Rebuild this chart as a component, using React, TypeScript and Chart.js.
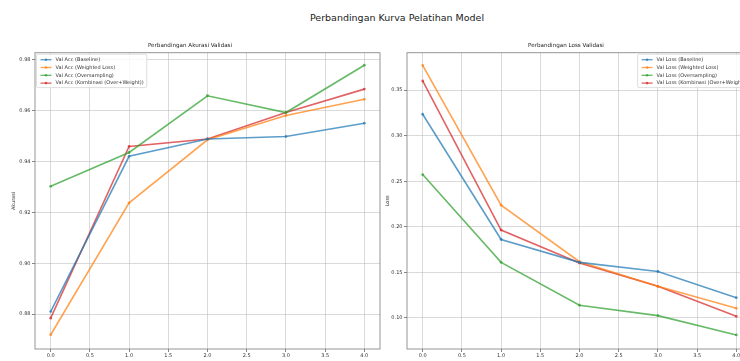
import React, { useEffect, useRef } from "react";
import { Chart, registerables } from "chart.js";

Chart.register(...registerables);

// ---- data ----
const epochs = [0, 1, 2, 3, 4];
const xTicks = [0, 0.5, 1, 1.5, 2, 2.5, 3, 3.5, 4];

const accLabels = [
  "Val Acc (Baseline)",
  "Val Acc (Weighted Loss)",
  "Val Acc (Oversampling)",
  "Val Acc (Kombinasi (Over+Weight))",
];
const accBaseline = [0.881, 0.942, 0.9488, 0.9498, 0.955];
const accWeighted = [0.8719, 0.9237, 0.9485, 0.958, 0.9644];
const accOversampling = [0.9302, 0.9435, 0.9658, 0.9592, 0.9778];
const accKombinasi = [0.8784, 0.9459, 0.9488, 0.9592, 0.9684];
const accTicks = [0.88, 0.9, 0.92, 0.94, 0.96, 0.98];

const lossLabels = [
  "Val Loss (Baseline)",
  "Val Loss (Weighted Loss)",
  "Val Loss (Oversampling)",
  "Val Loss (Kombinasi (Over+Weight))",
];
const lossBaseline = [0.3234, 0.1861, 0.161, 0.151, 0.1223];
const lossWeighted = [0.377, 0.2237, 0.1617, 0.1347, 0.1106];
const lossOversampling = [0.2573, 0.161, 0.114, 0.1026, 0.0814];
const lossKombinasi = [0.3599, 0.1964, 0.1602, 0.1347, 0.1018];
const lossTicks = [0.1, 0.15, 0.2, 0.25, 0.3, 0.35];

const colors = [
  "rgba(31,119,180,0.72)",
  "rgba(255,127,14,0.72)",
  "rgba(44,160,44,0.72)",
  "rgba(214,39,40,0.72)",
];

const FONT = '"DejaVu Sans", sans-serif';

const framePlugin = {
  id: "frame",
  afterDatasetsDraw(chart: any) {
    const { ctx, chartArea: ca } = chart;
    ctx.save();
    ctx.strokeStyle = "#8a8a8a";
    ctx.lineWidth = 0.9;
    ctx.strokeRect(ca.left, ca.top, ca.right - ca.left, ca.bottom - ca.top);
    ctx.restore();
  },
};

const boxLegendPlugin = {
  id: "boxLegend",
  afterDraw(chart: any, _args: any, opts: any) {
    const { ctx, chartArea: ca } = chart;
    const ds = chart.data.datasets;
    ctx.save();
    ctx.font = `5px ${FONT}`;
    const tw = Math.max(...ds.map((d: any) => ctx.measureText(d.label).width));
    const rowH = 7.8;
    const w = 4 + 11 + 4 + tw + 3;
    const h = 5.5 + rowH * (ds.length - 1) + 4.5;
    const x0 = opts.side === "left" ? ca.left + 1.5 : ca.right - 2 - w;
    const y0 = ca.top + 1.5;
    ctx.fillStyle = "rgba(255,255,255,0.85)";
    ctx.strokeStyle = "#d6d6d6";
    ctx.lineWidth = 0.8;
    ctx.beginPath();
    ctx.roundRect(x0, y0, w, h, 1.5);
    ctx.fill();
    ctx.stroke();
    ds.forEach((d: any, i: number) => {
      const y = y0 + 5.5 + i * rowH;
      ctx.strokeStyle = d.borderColor;
      ctx.lineWidth = 1.3;
      ctx.beginPath();
      ctx.moveTo(x0 + 4, y);
      ctx.lineTo(x0 + 15, y);
      ctx.stroke();
      ctx.fillStyle = d.borderColor;
      ctx.beginPath();
      ctx.arc(x0 + 9.5, y, 1.3, 0, Math.PI * 2);
      ctx.fill();
      ctx.fillStyle = "#333";
      ctx.textBaseline = "middle";
      ctx.textAlign = "left";
      ctx.fillText(d.label, x0 + 19, y);
    });
    ctx.restore();
  },
};

function makeDatasets(labels: string[], series: number[][]) {
  return series.map((vals, i) => ({
    label: labels[i],
    data: epochs.map((e, j) => ({ x: e, y: vals[j] })),
    borderColor: colors[i],
    backgroundColor: colors[i],
    borderWidth: 1.6,
    pointRadius: 1.4,
    pointHoverRadius: 1.4,
    pointBorderWidth: 0,
    tension: 0,
  }));
}

function makeConfig(
  datasets: any[],
  yMin: number,
  yMax: number,
  yTicks: number[],
  yTitle: string,
  title: string,
  side: string,
  yWidth: number,
  yTitlePad: number
): any {
  return {
    type: "line",
    data: { datasets },
    plugins: [framePlugin, boxLegendPlugin],
    options: {
      responsive: false,
      animation: false,
      layout: { padding: { left: 0, right: 10, top: 0, bottom: 0 } },
      plugins: {
        legend: { display: false },
        tooltip: { enabled: false },
        title: {
          display: true,
          text: title,
          color: "#222",
          font: { family: FONT, size: 5.6, weight: "normal" },
          padding: { top: 42, bottom: 4 },
        },
        boxLegend: { side },
      },
      scales: {
        x: {
          type: "linear",
          min: -0.2,
          max: 4.2,
          afterBuildTicks: (s: any) => {
            s.ticks = xTicks.map((v) => ({ value: v }));
          },
          afterFit: (s: any) => {
            s.height = 12;
          },
          ticks: {
            color: "#333",
            font: { family: FONT, size: 5 },
            padding: 1,
            maxRotation: 0,
            autoSkip: false,
            callback: (v: any) => Number(v).toFixed(1),
          },
          grid: {
            color: "rgba(176,176,176,0.6)",
            lineWidth: 0.8,
            tickLength: 3,
            tickColor: "#666",
          },
          border: { display: false },
        },
        y: {
          type: "linear",
          min: yMin,
          max: yMax,
          afterBuildTicks: (s: any) => {
            s.ticks = yTicks.map((v) => ({ value: v }));
          },
          afterFit: (s: any) => {
            s.width = yWidth;
          },
          title: {
            display: true,
            text: yTitle,
            color: "#333",
            font: { family: FONT, size: 5 },
            padding: { top: yTitlePad, bottom: 0 },
          },
          ticks: {
            color: "#333",
            font: { family: FONT, size: 5 },
            padding: 1.5,
            autoSkip: false,
            callback: (v: any) => Number(v).toFixed(2),
          },
          grid: {
            color: "rgba(176,176,176,0.6)",
            lineWidth: 0.8,
            tickLength: 3,
            tickColor: "#666",
          },
          border: { display: false },
        },
      },
    },
  };
}

export default function App() {
  const leftRef = useRef<HTMLCanvasElement>(null);
  const rightRef = useRef<HTMLCanvasElement>(null);

  useEffect(() => {
    const left = new Chart(
      leftRef.current as HTMLCanvasElement,
      makeConfig(
        makeDatasets(accLabels, [accBaseline, accWeighted, accOversampling, accKombinasi]),
        0.8663,
        0.9827,
        accTicks,
        "Akurasi",
        "Perbandingan Akurasi Validasi",
        "left",
        35,
        11
      )
    );
    const right = new Chart(
      rightRef.current as HTMLCanvasElement,
      makeConfig(
        makeDatasets(lossLabels, [lossBaseline, lossWeighted, lossOversampling, lossKombinasi]),
        0.066,
        0.3909,
        lossTicks,
        "Loss",
        "Perbandingan Loss Validasi",
        "right",
        27,
        5
      )
    );
    return () => {
      left.destroy();
      right.destroy();
    };
  }, []);

  return (
    <div
      style={{
        position: "fixed",
        left: 0,
        top: 0,
        width: 740,
        height: 361,
        overflow: "hidden",
        background: "#fff",
      }}
    >
      <div
        style={{
          position: "absolute",
          left: 0,
          top: 12,
          width: 794,
          textAlign: "center",
          fontFamily: FONT,
          fontSize: 9.5,
          lineHeight: "12px",
          color: "#222",
        }}
      >
        Perbandingan Kurva Pelatihan Model
      </div>
      <canvas
        ref={leftRef}
        width={390}
        height={361}
        style={{ position: "absolute", left: 0, top: 0, width: 390, height: 361 }}
      />
      <canvas
        ref={rightRef}
        width={382}
        height={361}
        style={{ position: "absolute", left: 380, top: 0, width: 382, height: 361 }}
      />
    </div>
  );
}
